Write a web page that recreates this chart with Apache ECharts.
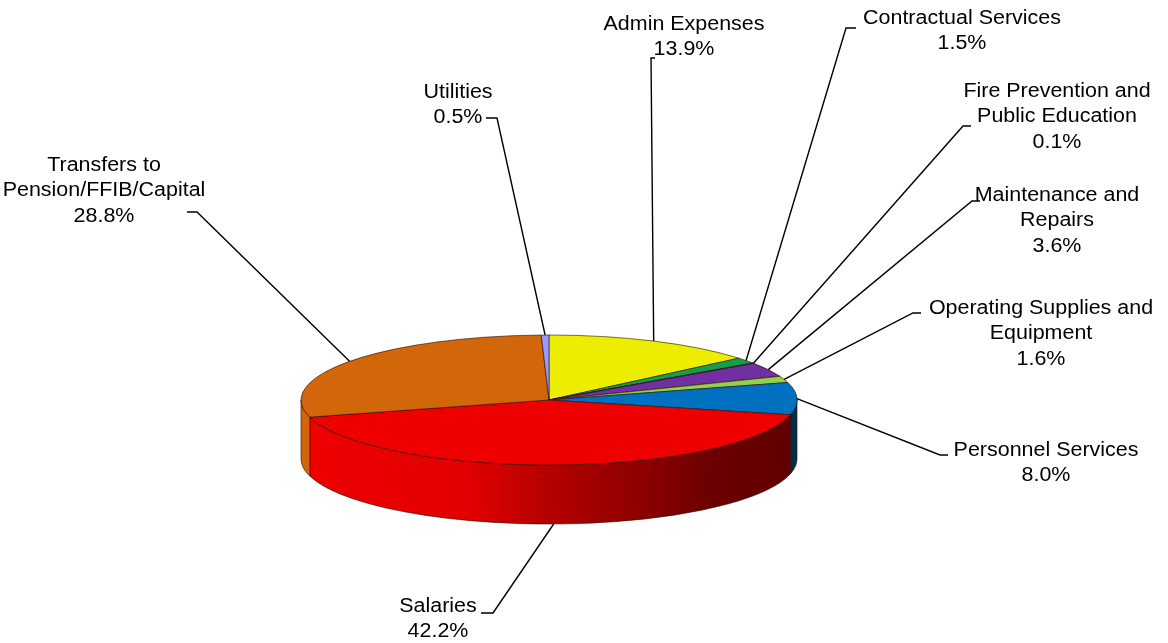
<!DOCTYPE html>
<html>
<head>
<meta charset="utf-8">
<script src="https://cdn.jsdelivr.net/npm/echarts@6/dist/echarts.min.js"></script>
<style>
  html, body { margin: 0; padding: 0; background: #ffffff; }
  #chart { width: 1168px; height: 643px; }
</style>
</head>
<body>
<div id="chart"></div>
<script>
// Budget shares by expense category (percent of total)
const categories = [
  'Admin Expenses',
  'Contractual Services',
  'Fire Prevention and\nPublic Education',
  'Maintenance and\nRepairs',
  'Operating Supplies and\nEquipment',
  'Personnel Services',
  'Salaries',
  'Transfers to\nPension/FFIB/Capital',
  'Utilities'
];
const shares = [13.9, 1.5, 0.1, 3.6, 1.6, 8.0, 42.2, 28.8, 0.5];

// Slice fills, same order as categories
const sliceColors = ['#EDED00', '#12A04C', '#C0504D', '#7030A0', '#92D050', '#0070C0', '#EE0000', '#D2660A', '#9999FF'];

// Label block centres and leader-line elbow / end points
const labelBoxes = [[684, 37], [962, 31], [1057, 117], [1057, 221], [1041, 334], [1046, 463], [438, 619], [104, 191], [458, 105]];
const leaderEnds = [
  [651, 58, 655, 58], [846, 28, 856, 28], [963, 126, 971, 126], [972, 201, 980, 201],
  [913, 313, 921, 313], [940, 455, 948, 455], [493, 613, 481, 613], [197, 212, 187, 212], [497, 118, 486, 118]
];

// Tilted disc geometry
const disc = { cx: 549, cy: 400, rx: 248, ry: 65, depth: 59 };

const total = shares.reduce((a, b) => a + b, 0);
const startAngles = [];
{
  let acc = 0;
  shares.forEach(v => { startAngles.push(acc / total * Math.PI * 2); acc += v; });
}
function endAngle(i) { return startAngles[i] + shares[i] / total * Math.PI * 2; }

// angle measured clockwise from 12 o'clock
function pt(a, dy) {
  return [disc.cx + disc.rx * Math.sin(a), disc.cy - disc.ry * Math.cos(a) + (dy || 0)];
}
function f(n) { return n.toFixed(2); }

function topPath(a1, a2) {
  const p1 = pt(a1), p2 = pt(a2);
  const large = (a2 - a1) > Math.PI ? 1 : 0;
  return 'M' + disc.cx + ' ' + disc.cy + 'L' + f(p1[0]) + ' ' + f(p1[1]) +
    'A' + disc.rx + ' ' + disc.ry + ' 0 ' + large + ' 1 ' + f(p2[0]) + ' ' + f(p2[1]) + 'Z';
}
function sidePath(s, e) {
  const d = disc.depth;
  const p1 = pt(s), p2 = pt(e), q2 = pt(e, d), q1 = pt(s, d);
  return 'M' + f(p1[0]) + ' ' + f(p1[1]) +
    'A' + disc.rx + ' ' + disc.ry + ' 0 0 1 ' + f(p2[0]) + ' ' + f(p2[1]) +
    'L' + f(q2[0]) + ' ' + f(q2[1]) +
    'A' + disc.rx + ' ' + disc.ry + ' 0 0 0 ' + f(q1[0]) + ' ' + f(q1[1]) + 'Z';
}

function shade(hex, k) {
  const n = parseInt(hex.slice(1), 16);
  const r = Math.round(((n >> 16) & 255) * k);
  const g = Math.round(((n >> 8) & 255) * k);
  const b = Math.round((n & 255) * k);
  return 'rgb(' + r + ',' + g + ',' + b + ')';
}
// side wall lighting: bright on the left, dark on the right
const lightStops = [[0, 1.0], [0.34, 0.95], [0.5, 0.76], [0.68, 0.6], [0.82, 0.46], [1, 0.4]];
function sideFill(color) {
  return {
    type: 'linear', global: true,
    x: disc.cx - disc.rx, y: 0, x2: disc.cx + disc.rx, y2: 0,
    colorStops: lightStops.map(s => ({ offset: s[0], color: shade(color, s[1]) }))
  };
}

const edgeStroke = 'rgba(40,10,0,0.75)';
const labelFont = '19.5px "Liberation Sans", Arial, sans-serif';

const option = {
  animation: false,
  backgroundColor: '#ffffff',
  series: [
    {
      // front walls of the disc
      type: 'custom',
      coordinateSystem: 'none',
      z: 1,
      silent: true,
      data: shares,
      renderItem: function (params) {
        const i = params.dataIndex;
        const s = Math.max(startAngles[i], Math.PI / 2);
        const e = Math.min(endAngle(i), Math.PI * 1.5);
        if (e <= s) return { type: 'group', children: [] };
        return {
          type: 'path',
          shape: { pathData: sidePath(s, e) },
          style: { fill: sideFill(sliceColors[i]), stroke: edgeStroke, lineWidth: 0.8 }
        };
      }
    },
    {
      // top face slices
      type: 'custom',
      coordinateSystem: 'none',
      z: 2,
      silent: true,
      data: shares,
      renderItem: function (params) {
        const i = params.dataIndex;
        return {
          type: 'path',
          shape: { pathData: topPath(startAngles[i], endAngle(i)) },
          style: { fill: sliceColors[i], stroke: edgeStroke, lineWidth: 0.8 }
        };
      }
    },
    {
      // category labels with leader lines
      type: 'custom',
      coordinateSystem: 'none',
      z: 3,
      silent: true,
      data: shares,
      renderItem: function (params, api) {
        const i = params.dataIndex;
        const mid = (startAngles[i] + endAngle(i)) / 2;
        const front = mid > Math.PI / 2 && mid < Math.PI * 1.5;
        const start = pt(mid, front ? disc.depth : 0);
        const le = leaderEnds[i];
        const box = labelBoxes[i];
        return {
          type: 'group',
          children: [
            {
              type: 'polyline',
              shape: { points: [start, [le[0], le[1]], [le[2], le[3]]] },
              style: { stroke: '#000000', lineWidth: 1.4, fill: null }
            },
            {
              type: 'text',
              x: box[0], y: box[1],
              scaleX: 1.1,
              style: {
                text: categories[i] + '\n' + api.value(0).toFixed(1) + '%',
                font: labelFont,
                lineHeight: 25.5,
                fill: '#000000',
                align: 'center',
                verticalAlign: 'middle'
              }
            }
          ]
        };
      }
    }
  ]
};

const chart = echarts.init(document.getElementById('chart'), null, { renderer: 'canvas' });
chart.setOption(option);
</script>
</body>
</html>
